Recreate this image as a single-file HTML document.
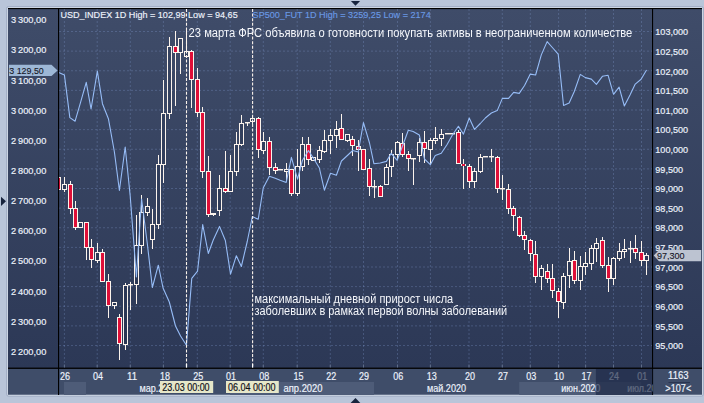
<!DOCTYPE html><html><head><meta charset="utf-8"><title>chart</title>
<style>html,body{margin:0;padding:0;background:#b9c5d9;}svg{display:block}text{font-family:"Liberation Sans",sans-serif;}</style></head><body>
<svg width="704" height="403" viewBox="0 0 704 403">
<defs>
<linearGradient id="bg" x1="0" y1="0" x2="0" y2="1"><stop offset="0" stop-color="#3f4c69"/><stop offset="1" stop-color="#2c3856"/></linearGradient>
<linearGradient id="bg2" gradientUnits="userSpaceOnUse" x1="0" y1="8" x2="0" y2="369"><stop offset="0" stop-color="#394663"/><stop offset="1" stop-color="#283452"/></linearGradient>
<clipPath id="cp"><rect x="59" y="9" width="593.5" height="359"/></clipPath>
<clipPath id="cb"><rect x="59" y="369" width="593.5" height="26"/></clipPath>
</defs>
<rect x="0" y="0" width="704" height="403" fill="#b9c5d9"/>
<rect x="6.5" y="6.5" width="697" height="389.7" rx="2" fill="none" stroke="#a3afc6" stroke-width="1"/>
<rect x="7.5" y="7.5" width="695" height="387.7" rx="1.5" fill="none" stroke="#ccd5e3" stroke-width="1"/>
<rect x="8" y="8" width="694" height="361" fill="url(#bg)"/>
<rect x="8" y="368" width="694" height="26.7" fill="#3f4d69"/>
<rect x="8" y="8" width="694" height="1.1" fill="#000"/>
<g clip-path="url(#cb)">
<rect x="64" y="382" width="22" height="13" fill="#4e5c78"/>
<rect x="230" y="382" width="144" height="13" fill="#4e5c78"/>
<rect x="519.2" y="382" width="122" height="13" fill="#4e5c78"/>
</g>
<g stroke="#9dbcf5" stroke-opacity="0.23" stroke-width="1" stroke-dasharray="2 2" fill="none" clip-path="url(#cp)">
<line x1="59" y1="31.50" x2="652" y2="31.50"/>
<line x1="59" y1="51.12" x2="652" y2="51.12"/>
<line x1="59" y1="70.75" x2="652" y2="70.75"/>
<line x1="59" y1="90.38" x2="652" y2="90.38"/>
<line x1="59" y1="110.00" x2="652" y2="110.00"/>
<line x1="59" y1="129.62" x2="652" y2="129.62"/>
<line x1="59" y1="149.25" x2="652" y2="149.25"/>
<line x1="59" y1="168.88" x2="652" y2="168.88"/>
<line x1="59" y1="188.50" x2="652" y2="188.50"/>
<line x1="59" y1="208.12" x2="652" y2="208.12"/>
<line x1="59" y1="227.75" x2="652" y2="227.75"/>
<line x1="59" y1="247.38" x2="652" y2="247.38"/>
<line x1="59" y1="267.00" x2="652" y2="267.00"/>
<line x1="59" y1="286.62" x2="652" y2="286.62"/>
<line x1="59" y1="306.25" x2="652" y2="306.25"/>
<line x1="59" y1="325.88" x2="652" y2="325.88"/>
<line x1="59" y1="345.50" x2="652" y2="345.50"/>
<line x1="64.40" y1="9" x2="64.40" y2="368"/>
<line x1="97.20" y1="9" x2="97.20" y2="368"/>
<line x1="130.30" y1="9" x2="130.30" y2="368"/>
<line x1="163.40" y1="9" x2="163.40" y2="368"/>
<line x1="197.30" y1="9" x2="197.30" y2="368"/>
<line x1="230.20" y1="9" x2="230.20" y2="368"/>
<line x1="263.30" y1="9" x2="263.30" y2="368"/>
<line x1="297.20" y1="9" x2="297.20" y2="368"/>
<line x1="330.30" y1="9" x2="330.30" y2="368"/>
<line x1="363.50" y1="9" x2="363.50" y2="368"/>
<line x1="397.50" y1="9" x2="397.50" y2="368"/>
<line x1="430.40" y1="9" x2="430.40" y2="368"/>
<line x1="469.00" y1="9" x2="469.00" y2="368"/>
<line x1="502.30" y1="9" x2="502.30" y2="368"/>
<line x1="530.30" y1="9" x2="530.30" y2="368"/>
<line x1="558.60" y1="9" x2="558.60" y2="368"/>
<line x1="585.60" y1="9" x2="585.60" y2="368"/>
<line x1="613.50" y1="9" x2="613.50" y2="368"/>
<line x1="641.50" y1="9" x2="641.50" y2="368"/>
</g>
<g clip-path="url(#cp)">
<rect x="58" y="175" width="1" height="17" fill="#fbf3ec"/>
<rect x="56" y="177" width="5" height="13" fill="#fbf3ec"/>
<rect x="57" y="178" width="3" height="11" fill="#df0f38"/>
<rect x="64" y="177" width="1" height="15" fill="#fbf3ec"/>
<rect x="62" y="184" width="5" height="6" fill="#fbf3ec"/>
<rect x="63" y="185" width="3" height="4" fill="url(#bg2)"/>
<rect x="70" y="181" width="1" height="33" fill="#fbf3ec"/>
<rect x="68" y="184" width="5" height="25" fill="#fbf3ec"/>
<rect x="69" y="185" width="3" height="23" fill="#df0f38"/>
<rect x="75" y="201" width="1" height="29" fill="#fbf3ec"/>
<rect x="73" y="208" width="5" height="20" fill="#fbf3ec"/>
<rect x="74" y="209" width="3" height="18" fill="#df0f38"/>
<rect x="80" y="222" width="1" height="6" fill="#fbf3ec"/>
<rect x="78" y="222" width="5" height="6" fill="#fbf3ec"/>
<rect x="79" y="223" width="3" height="4" fill="url(#bg2)"/>
<rect x="86" y="222" width="1" height="38" fill="#fbf3ec"/>
<rect x="84" y="222" width="5" height="26" fill="#fbf3ec"/>
<rect x="85" y="223" width="3" height="24" fill="#df0f38"/>
<rect x="91" y="239" width="1" height="29" fill="#fbf3ec"/>
<rect x="89" y="247" width="5" height="13" fill="#fbf3ec"/>
<rect x="90" y="248" width="3" height="11" fill="#df0f38"/>
<rect x="97" y="243" width="1" height="20" fill="#fbf3ec"/>
<rect x="95" y="252" width="5" height="9" fill="#fbf3ec"/>
<rect x="96" y="253" width="3" height="7" fill="url(#bg2)"/>
<rect x="102" y="249" width="1" height="33" fill="#fbf3ec"/>
<rect x="100" y="252" width="5" height="30" fill="#fbf3ec"/>
<rect x="101" y="253" width="3" height="28" fill="#df0f38"/>
<rect x="108" y="274" width="1" height="44" fill="#fbf3ec"/>
<rect x="106" y="281" width="5" height="25" fill="#fbf3ec"/>
<rect x="107" y="282" width="3" height="23" fill="#df0f38"/>
<rect x="114" y="302" width="1" height="7" fill="#fbf3ec"/>
<rect x="112" y="302" width="5" height="4" fill="#fbf3ec"/>
<rect x="113" y="303" width="3" height="2" fill="url(#bg2)"/>
<rect x="119" y="314" width="1" height="46" fill="#fbf3ec"/>
<rect x="117" y="317" width="5" height="27" fill="#fbf3ec"/>
<rect x="118" y="318" width="3" height="25" fill="#df0f38"/>
<rect x="125" y="283" width="1" height="67" fill="#fbf3ec"/>
<rect x="123" y="285" width="5" height="60" fill="#fbf3ec"/>
<rect x="124" y="286" width="3" height="58" fill="url(#bg2)"/>
<rect x="130" y="282" width="1" height="28" fill="#fbf3ec"/>
<rect x="128" y="284" width="5" height="1.45" fill="#fbf3ec"/>
<rect x="136" y="215" width="1" height="89" fill="#fbf3ec"/>
<rect x="134" y="245" width="5" height="40" fill="#fbf3ec"/>
<rect x="135" y="246" width="3" height="38" fill="url(#bg2)"/>
<rect x="141" y="195" width="1" height="59" fill="#fbf3ec"/>
<rect x="139" y="212" width="5" height="34" fill="#fbf3ec"/>
<rect x="140" y="213" width="3" height="32" fill="url(#bg2)"/>
<rect x="147" y="198" width="1" height="18" fill="#fbf3ec"/>
<rect x="145" y="206" width="5" height="7" fill="#fbf3ec"/>
<rect x="146" y="207" width="3" height="5" fill="url(#bg2)"/>
<rect x="152" y="209" width="1" height="40" fill="#fbf3ec"/>
<rect x="150" y="224" width="5" height="16" fill="#fbf3ec"/>
<rect x="151" y="225" width="3" height="14" fill="url(#bg2)"/>
<rect x="158" y="155" width="1" height="74" fill="#fbf3ec"/>
<rect x="156" y="164" width="5" height="61" fill="#fbf3ec"/>
<rect x="157" y="165" width="3" height="59" fill="url(#bg2)"/>
<rect x="163" y="80" width="1" height="103" fill="#fbf3ec"/>
<rect x="161" y="113" width="5" height="52" fill="#fbf3ec"/>
<rect x="162" y="114" width="3" height="50" fill="url(#bg2)"/>
<rect x="169" y="37" width="1" height="82" fill="#fbf3ec"/>
<rect x="167" y="46" width="5" height="68" fill="#fbf3ec"/>
<rect x="168" y="47" width="3" height="66" fill="url(#bg2)"/>
<rect x="175" y="31" width="1" height="75" fill="#fbf3ec"/>
<rect x="173" y="46" width="5" height="7" fill="#fbf3ec"/>
<rect x="174" y="47" width="3" height="5" fill="#df0f38"/>
<rect x="180" y="38" width="1" height="36" fill="#fbf3ec"/>
<rect x="178" y="38" width="5" height="15" fill="#fbf3ec"/>
<rect x="179" y="39" width="3" height="13" fill="url(#bg2)"/>
<rect x="186" y="30" width="1" height="28" fill="#fbf3ec"/>
<rect x="184" y="51" width="5" height="6" fill="#fbf3ec"/>
<rect x="185" y="52" width="3" height="4" fill="url(#bg2)"/>
<rect x="191" y="50" width="1" height="58" fill="#fbf3ec"/>
<rect x="189" y="51" width="5" height="29" fill="#fbf3ec"/>
<rect x="190" y="52" width="3" height="27" fill="#df0f38"/>
<rect x="197" y="68" width="1" height="49" fill="#fbf3ec"/>
<rect x="195" y="79" width="5" height="34" fill="#fbf3ec"/>
<rect x="196" y="80" width="3" height="32" fill="#df0f38"/>
<rect x="202" y="107" width="1" height="71" fill="#fbf3ec"/>
<rect x="200" y="112" width="5" height="60" fill="#fbf3ec"/>
<rect x="201" y="113" width="3" height="58" fill="#df0f38"/>
<rect x="208" y="156" width="1" height="61" fill="#fbf3ec"/>
<rect x="206" y="171" width="5" height="44" fill="#fbf3ec"/>
<rect x="207" y="172" width="3" height="42" fill="#df0f38"/>
<rect x="213" y="213" width="1" height="3" fill="#fbf3ec"/>
<rect x="211" y="213" width="5" height="2" fill="#fbf3ec"/>
<rect x="219" y="175" width="1" height="41" fill="#fbf3ec"/>
<rect x="217" y="188" width="5" height="23" fill="#fbf3ec"/>
<rect x="218" y="189" width="3" height="21" fill="url(#bg2)"/>
<rect x="225" y="151" width="1" height="42" fill="#fbf3ec"/>
<rect x="223" y="188" width="5" height="4" fill="#fbf3ec"/>
<rect x="224" y="189" width="3" height="2" fill="#df0f38"/>
<rect x="230" y="155" width="1" height="37" fill="#fbf3ec"/>
<rect x="228" y="171" width="5" height="21" fill="#fbf3ec"/>
<rect x="229" y="172" width="3" height="19" fill="url(#bg2)"/>
<rect x="236" y="132" width="1" height="44" fill="#fbf3ec"/>
<rect x="234" y="144" width="5" height="28" fill="#fbf3ec"/>
<rect x="235" y="145" width="3" height="26" fill="url(#bg2)"/>
<rect x="241" y="115" width="1" height="31" fill="#fbf3ec"/>
<rect x="239" y="123" width="5" height="22" fill="#fbf3ec"/>
<rect x="240" y="124" width="3" height="20" fill="url(#bg2)"/>
<rect x="247" y="122" width="1" height="4" fill="#fbf3ec"/>
<rect x="245" y="122" width="5" height="1.45" fill="#fbf3ec"/>
<rect x="252" y="116" width="1" height="8" fill="#fbf3ec"/>
<rect x="250" y="118" width="5" height="4" fill="#fbf3ec"/>
<rect x="251" y="119" width="3" height="2" fill="url(#bg2)"/>
<rect x="258" y="117" width="1" height="41" fill="#fbf3ec"/>
<rect x="256" y="118" width="5" height="32" fill="#fbf3ec"/>
<rect x="257" y="119" width="3" height="30" fill="#df0f38"/>
<rect x="263" y="132" width="1" height="22" fill="#fbf3ec"/>
<rect x="261" y="141" width="5" height="10" fill="#fbf3ec"/>
<rect x="262" y="142" width="3" height="8" fill="url(#bg2)"/>
<rect x="269" y="137" width="1" height="38" fill="#fbf3ec"/>
<rect x="267" y="141" width="5" height="27" fill="#fbf3ec"/>
<rect x="268" y="142" width="3" height="25" fill="#df0f38"/>
<rect x="275" y="163" width="1" height="11" fill="#fbf3ec"/>
<rect x="273" y="167" width="5" height="4" fill="#fbf3ec"/>
<rect x="274" y="168" width="3" height="2" fill="#df0f38"/>
<rect x="278" y="169" width="5" height="1.45" fill="#fbf3ec"/>
<rect x="286" y="163" width="1" height="18" fill="#fbf3ec"/>
<rect x="284" y="169" width="5" height="3" fill="#fbf3ec"/>
<rect x="285" y="170" width="3" height="1" fill="url(#bg2)"/>
<rect x="291" y="169" width="1" height="27" fill="#fbf3ec"/>
<rect x="289" y="169" width="5" height="25" fill="#fbf3ec"/>
<rect x="290" y="170" width="3" height="23" fill="#df0f38"/>
<rect x="297" y="149" width="1" height="47" fill="#fbf3ec"/>
<rect x="295" y="166" width="5" height="28" fill="#fbf3ec"/>
<rect x="296" y="167" width="3" height="26" fill="url(#bg2)"/>
<rect x="302" y="137" width="1" height="34" fill="#fbf3ec"/>
<rect x="300" y="144" width="5" height="23" fill="#fbf3ec"/>
<rect x="301" y="145" width="3" height="21" fill="url(#bg2)"/>
<rect x="308" y="137" width="1" height="28" fill="#fbf3ec"/>
<rect x="306" y="144" width="5" height="16" fill="#fbf3ec"/>
<rect x="307" y="145" width="3" height="14" fill="#df0f38"/>
<rect x="313" y="158" width="1" height="2" fill="#fbf3ec"/>
<rect x="311" y="157" width="5" height="4" fill="#fbf3ec"/>
<rect x="312" y="158" width="3" height="2" fill="url(#bg2)"/>
<rect x="319" y="146" width="1" height="17" fill="#fbf3ec"/>
<rect x="317" y="150" width="5" height="10" fill="#fbf3ec"/>
<rect x="318" y="151" width="3" height="8" fill="url(#bg2)"/>
<rect x="324" y="130" width="1" height="23" fill="#fbf3ec"/>
<rect x="322" y="140" width="5" height="12" fill="#fbf3ec"/>
<rect x="323" y="141" width="3" height="10" fill="url(#bg2)"/>
<rect x="330" y="129" width="1" height="25" fill="#fbf3ec"/>
<rect x="328" y="135" width="5" height="6" fill="#fbf3ec"/>
<rect x="329" y="136" width="3" height="4" fill="url(#bg2)"/>
<rect x="336" y="121" width="1" height="27" fill="#fbf3ec"/>
<rect x="334" y="129" width="5" height="7" fill="#fbf3ec"/>
<rect x="335" y="130" width="3" height="5" fill="url(#bg2)"/>
<rect x="341" y="114" width="1" height="26" fill="#fbf3ec"/>
<rect x="339" y="128" width="5" height="12" fill="#fbf3ec"/>
<rect x="340" y="129" width="3" height="10" fill="#df0f38"/>
<rect x="347" y="134" width="1" height="8" fill="#fbf3ec"/>
<rect x="345" y="134" width="5" height="7" fill="#fbf3ec"/>
<rect x="346" y="135" width="3" height="5" fill="url(#bg2)"/>
<rect x="352" y="136" width="1" height="20" fill="#fbf3ec"/>
<rect x="350" y="139" width="5" height="7" fill="#fbf3ec"/>
<rect x="351" y="140" width="3" height="5" fill="#df0f38"/>
<rect x="358" y="140" width="1" height="31" fill="#fbf3ec"/>
<rect x="356" y="146" width="5" height="4" fill="#fbf3ec"/>
<rect x="357" y="147" width="3" height="2" fill="#df0f38"/>
<rect x="363" y="150" width="1" height="19" fill="#fbf3ec"/>
<rect x="361" y="149" width="5" height="21" fill="#fbf3ec"/>
<rect x="362" y="150" width="3" height="19" fill="#df0f38"/>
<rect x="369" y="159" width="1" height="37" fill="#fbf3ec"/>
<rect x="367" y="168" width="5" height="19" fill="#fbf3ec"/>
<rect x="368" y="169" width="3" height="17" fill="#df0f38"/>
<rect x="374" y="180" width="1" height="18" fill="#fbf3ec"/>
<rect x="372" y="186" width="5" height="1.45" fill="#fbf3ec"/>
<rect x="380" y="185" width="1" height="11" fill="#fbf3ec"/>
<rect x="378" y="186" width="5" height="11" fill="#fbf3ec"/>
<rect x="379" y="187" width="3" height="9" fill="#df0f38"/>
<rect x="386" y="164" width="1" height="20" fill="#fbf3ec"/>
<rect x="384" y="167" width="5" height="18" fill="#fbf3ec"/>
<rect x="385" y="168" width="3" height="16" fill="url(#bg2)"/>
<rect x="391" y="150" width="1" height="27" fill="#fbf3ec"/>
<rect x="389" y="154" width="5" height="13" fill="#fbf3ec"/>
<rect x="390" y="155" width="3" height="11" fill="url(#bg2)"/>
<rect x="397" y="141" width="1" height="19" fill="#fbf3ec"/>
<rect x="395" y="142" width="5" height="13" fill="#fbf3ec"/>
<rect x="396" y="143" width="3" height="11" fill="url(#bg2)"/>
<rect x="402" y="133" width="1" height="24" fill="#fbf3ec"/>
<rect x="400" y="143" width="5" height="12" fill="#fbf3ec"/>
<rect x="401" y="144" width="3" height="10" fill="#df0f38"/>
<rect x="408" y="151" width="1" height="20" fill="#fbf3ec"/>
<rect x="406" y="154" width="5" height="5" fill="#fbf3ec"/>
<rect x="407" y="155" width="3" height="3" fill="#df0f38"/>
<rect x="413" y="159" width="1" height="26" fill="#fbf3ec"/>
<rect x="411" y="158" width="5" height="1.45" fill="#fbf3ec"/>
<rect x="419" y="138" width="1" height="24" fill="#fbf3ec"/>
<rect x="417" y="142" width="5" height="14" fill="#fbf3ec"/>
<rect x="418" y="143" width="3" height="12" fill="url(#bg2)"/>
<rect x="424" y="131" width="1" height="32" fill="#fbf3ec"/>
<rect x="422" y="142" width="5" height="7" fill="#fbf3ec"/>
<rect x="423" y="143" width="3" height="5" fill="#df0f38"/>
<rect x="430" y="138" width="1" height="27" fill="#fbf3ec"/>
<rect x="428" y="140" width="5" height="10" fill="#fbf3ec"/>
<rect x="429" y="141" width="3" height="8" fill="url(#bg2)"/>
<rect x="435" y="127" width="1" height="17" fill="#fbf3ec"/>
<rect x="433" y="138" width="5" height="3" fill="#fbf3ec"/>
<rect x="434" y="139" width="3" height="1" fill="url(#bg2)"/>
<rect x="441" y="129" width="1" height="17" fill="#fbf3ec"/>
<rect x="439" y="134" width="5" height="5" fill="#fbf3ec"/>
<rect x="440" y="135" width="3" height="3" fill="url(#bg2)"/>
<rect x="445" y="133" width="5" height="1.45" fill="#fbf3ec"/>
<rect x="450" y="133" width="5" height="1.45" fill="#fbf3ec"/>
<rect x="458" y="130" width="1" height="34" fill="#fbf3ec"/>
<rect x="456" y="132" width="5" height="32" fill="#fbf3ec"/>
<rect x="457" y="133" width="3" height="30" fill="#df0f38"/>
<rect x="463" y="159" width="1" height="30" fill="#fbf3ec"/>
<rect x="461" y="164" width="5" height="2" fill="#fbf3ec"/>
<rect x="462" y="164" width="3" height="2" fill="#df0f38"/>
<rect x="469" y="164" width="1" height="24" fill="#fbf3ec"/>
<rect x="467" y="166" width="5" height="16" fill="#fbf3ec"/>
<rect x="468" y="167" width="3" height="14" fill="#df0f38"/>
<rect x="474" y="168" width="1" height="20" fill="#fbf3ec"/>
<rect x="472" y="171" width="5" height="11" fill="#fbf3ec"/>
<rect x="473" y="172" width="3" height="9" fill="url(#bg2)"/>
<rect x="480" y="154" width="1" height="19" fill="#fbf3ec"/>
<rect x="478" y="157" width="5" height="15" fill="#fbf3ec"/>
<rect x="479" y="158" width="3" height="13" fill="url(#bg2)"/>
<rect x="483" y="156" width="5" height="1.45" fill="#fbf3ec"/>
<rect x="491" y="149" width="1" height="13" fill="#fbf3ec"/>
<rect x="489" y="156" width="5" height="1.45" fill="#fbf3ec"/>
<rect x="497" y="156" width="1" height="37" fill="#fbf3ec"/>
<rect x="495" y="157" width="5" height="32" fill="#fbf3ec"/>
<rect x="496" y="158" width="3" height="30" fill="#df0f38"/>
<rect x="502" y="175" width="1" height="25" fill="#fbf3ec"/>
<rect x="500" y="188" width="5" height="1.45" fill="#fbf3ec"/>
<rect x="508" y="184" width="1" height="30" fill="#fbf3ec"/>
<rect x="506" y="189" width="5" height="20" fill="#fbf3ec"/>
<rect x="507" y="190" width="3" height="18" fill="#df0f38"/>
<rect x="513" y="206" width="1" height="25" fill="#fbf3ec"/>
<rect x="511" y="208" width="5" height="8" fill="#fbf3ec"/>
<rect x="512" y="209" width="3" height="6" fill="#df0f38"/>
<rect x="519" y="216" width="1" height="21" fill="#fbf3ec"/>
<rect x="517" y="217" width="5" height="19" fill="#fbf3ec"/>
<rect x="518" y="218" width="3" height="17" fill="#df0f38"/>
<rect x="524" y="231" width="1" height="19" fill="#fbf3ec"/>
<rect x="522" y="235" width="5" height="5" fill="#fbf3ec"/>
<rect x="523" y="236" width="3" height="3" fill="#df0f38"/>
<rect x="530" y="239" width="1" height="22" fill="#fbf3ec"/>
<rect x="528" y="240" width="5" height="14" fill="#fbf3ec"/>
<rect x="529" y="241" width="3" height="12" fill="#df0f38"/>
<rect x="535" y="241" width="1" height="42" fill="#fbf3ec"/>
<rect x="533" y="254" width="5" height="23" fill="#fbf3ec"/>
<rect x="534" y="255" width="3" height="21" fill="#df0f38"/>
<rect x="541" y="265" width="1" height="25" fill="#fbf3ec"/>
<rect x="539" y="268" width="5" height="9" fill="#fbf3ec"/>
<rect x="540" y="269" width="3" height="7" fill="url(#bg2)"/>
<rect x="547" y="264" width="1" height="19" fill="#fbf3ec"/>
<rect x="545" y="271" width="5" height="8" fill="#fbf3ec"/>
<rect x="546" y="272" width="3" height="6" fill="#df0f38"/>
<rect x="552" y="264" width="1" height="34" fill="#fbf3ec"/>
<rect x="550" y="278" width="5" height="13" fill="#fbf3ec"/>
<rect x="551" y="279" width="3" height="11" fill="#df0f38"/>
<rect x="558" y="288" width="1" height="30" fill="#fbf3ec"/>
<rect x="556" y="291" width="5" height="11" fill="#fbf3ec"/>
<rect x="557" y="292" width="3" height="9" fill="#df0f38"/>
<rect x="563" y="273" width="1" height="36" fill="#fbf3ec"/>
<rect x="561" y="276" width="5" height="27" fill="#fbf3ec"/>
<rect x="562" y="277" width="3" height="25" fill="url(#bg2)"/>
<rect x="569" y="248" width="1" height="40" fill="#fbf3ec"/>
<rect x="567" y="261" width="5" height="15" fill="#fbf3ec"/>
<rect x="568" y="262" width="3" height="13" fill="url(#bg2)"/>
<rect x="574" y="251" width="1" height="33" fill="#fbf3ec"/>
<rect x="572" y="260" width="5" height="21" fill="#fbf3ec"/>
<rect x="573" y="261" width="3" height="19" fill="#df0f38"/>
<rect x="580" y="256" width="1" height="34" fill="#fbf3ec"/>
<rect x="578" y="266" width="5" height="15" fill="#fbf3ec"/>
<rect x="579" y="267" width="3" height="13" fill="url(#bg2)"/>
<rect x="585" y="252" width="1" height="23" fill="#fbf3ec"/>
<rect x="583" y="263" width="5" height="4" fill="#fbf3ec"/>
<rect x="584" y="264" width="3" height="2" fill="url(#bg2)"/>
<rect x="591" y="245" width="1" height="25" fill="#fbf3ec"/>
<rect x="589" y="248" width="5" height="16" fill="#fbf3ec"/>
<rect x="590" y="249" width="3" height="14" fill="url(#bg2)"/>
<rect x="596" y="238" width="1" height="24" fill="#fbf3ec"/>
<rect x="594" y="243" width="5" height="6" fill="#fbf3ec"/>
<rect x="595" y="244" width="3" height="4" fill="url(#bg2)"/>
<rect x="602" y="237" width="1" height="31" fill="#fbf3ec"/>
<rect x="600" y="240" width="5" height="26" fill="#fbf3ec"/>
<rect x="601" y="241" width="3" height="24" fill="#df0f38"/>
<rect x="608" y="257" width="1" height="35" fill="#fbf3ec"/>
<rect x="606" y="265" width="5" height="14" fill="#fbf3ec"/>
<rect x="607" y="266" width="3" height="12" fill="#df0f38"/>
<rect x="613" y="257" width="1" height="28" fill="#fbf3ec"/>
<rect x="611" y="258" width="5" height="21" fill="#fbf3ec"/>
<rect x="612" y="259" width="3" height="19" fill="url(#bg2)"/>
<rect x="619" y="243" width="1" height="18" fill="#fbf3ec"/>
<rect x="617" y="251" width="5" height="8" fill="#fbf3ec"/>
<rect x="618" y="252" width="3" height="6" fill="url(#bg2)"/>
<rect x="624" y="239" width="1" height="19" fill="#fbf3ec"/>
<rect x="622" y="249" width="5" height="3" fill="#fbf3ec"/>
<rect x="623" y="250" width="3" height="1" fill="url(#bg2)"/>
<rect x="630" y="241" width="1" height="22" fill="#fbf3ec"/>
<rect x="628" y="248" width="5" height="1.45" fill="#fbf3ec"/>
<rect x="635" y="235" width="1" height="24" fill="#fbf3ec"/>
<rect x="633" y="248" width="5" height="5" fill="#fbf3ec"/>
<rect x="634" y="249" width="3" height="3" fill="#df0f38"/>
<rect x="641" y="241" width="1" height="25" fill="#fbf3ec"/>
<rect x="639" y="252" width="5" height="9" fill="#fbf3ec"/>
<rect x="640" y="253" width="3" height="7" fill="#df0f38"/>
<rect x="646" y="253" width="1" height="22" fill="#fbf3ec"/>
<rect x="644" y="255" width="5" height="6" fill="#fbf3ec"/>
<rect x="645" y="256" width="3" height="4" fill="url(#bg2)"/>
<polyline points="58.65,72.40 64.40,74.90 69.85,117.60 75.10,121.20 80.70,101.80 86.25,82.40 91.05,109.00 97.35,71.10 102.45,103.70 108.40,118.70 114.40,152.00 119.40,190.50 125.20,147.00 130.20,196.00 136.40,277.00 141.60,199.00 147.35,244.00 152.35,287.50 158.30,265.20 163.05,288.00 169.30,302.00 175.50,326.00 180.55,336.00 186.45,345.30 191.75,278.40 197.55,271.20 202.70,224.60 208.30,253.50 213.25,240.00 219.50,226.40 225.35,240.50 230.55,274.20 236.35,255.70 241.35,266.50 247.25,241.50 252.35,216.50 258.20,219.30 263.20,188.00 269.35,176.30 275.20,178.30 280.15,180.30 286.20,182.40 291.40,157.30 297.55,179.10 302.40,160.50 308.45,150.50 313.30,158.00 319.35,168.00 324.40,190.20 330.50,173.20 336.40,175.20 341.45,161.00 347.40,155.50 352.70,150.50 358.20,152.00 363.45,122.60 369.50,143.00 373.90,163.70 380.20,163.00 386.45,161.40 391.20,153.30 397.20,160.40 402.45,146.30 408.30,130.20 413.15,131.50 419.35,135.00 424.45,159.00 430.35,164.70 435.25,155.50 441.30,153.30 447.10,144.50 452.10,135.50 458.40,126.30 463.45,134.10 469.25,118.00 474.50,129.40 480.30,123.50 485.35,118.00 491.35,113.00 497.25,110.60 502.35,98.40 508.55,98.40 513.65,92.40 519.25,93.40 524.55,85.50 530.30,74.10 535.60,75.00 541.30,54.90 547.15,41.60 552.35,47.50 558.20,54.10 563.55,105.50 569.15,103.00 574.30,91.50 580.30,74.40 585.35,77.60 591.35,79.10 596.40,84.40 602.40,76.30 608.10,75.30 613.55,94.30 619.10,87.20 624.35,106.00 630.00,95.00 635.25,84.10 641.10,79.30 646.55,70.00" fill="none" stroke="#96bcf6" stroke-width="1.1" stroke-linejoin="round"/>
<line x1="186.5" y1="9" x2="186.5" y2="368" stroke="#fbf3ec" stroke-width="1.1" stroke-dasharray="3 1.6"/>
<line x1="252.6" y1="9" x2="252.6" y2="368" stroke="#fbf3ec" stroke-width="1.1" stroke-dasharray="3 1.6"/>
</g>
<rect x="58" y="9" width="1.1" height="386" fill="#000"/>
<rect x="652" y="9" width="1.1" height="386" fill="#000"/>
<rect x="8" y="367.6" width="694" height="1.3" fill="#000"/>
<rect x="63.90" y="364.5" width="1" height="3" fill="#5f6d89"/>
<rect x="96.70" y="364.5" width="1" height="3" fill="#5f6d89"/>
<rect x="129.80" y="364.5" width="1" height="3" fill="#5f6d89"/>
<rect x="162.90" y="364.5" width="1" height="3" fill="#5f6d89"/>
<rect x="196.80" y="364.5" width="1" height="3" fill="#5f6d89"/>
<rect x="229.70" y="364.5" width="1" height="3" fill="#5f6d89"/>
<rect x="262.80" y="364.5" width="1" height="3" fill="#5f6d89"/>
<rect x="296.70" y="364.5" width="1" height="3" fill="#5f6d89"/>
<rect x="329.80" y="364.5" width="1" height="3" fill="#5f6d89"/>
<rect x="363.00" y="364.5" width="1" height="3" fill="#5f6d89"/>
<rect x="397.00" y="364.5" width="1" height="3" fill="#5f6d89"/>
<rect x="429.90" y="364.5" width="1" height="3" fill="#5f6d89"/>
<rect x="468.50" y="364.5" width="1" height="3" fill="#5f6d89"/>
<rect x="501.80" y="364.5" width="1" height="3" fill="#5f6d89"/>
<rect x="529.80" y="364.5" width="1" height="3" fill="#5f6d89"/>
<rect x="558.10" y="364.5" width="1" height="3" fill="#5f6d89"/>
<rect x="585.10" y="364.5" width="1" height="3" fill="#5f6d89"/>
<rect x="613.00" y="364.5" width="1" height="3" fill="#5f6d89"/>
<rect x="641.00" y="364.5" width="1" height="3" fill="#5f6d89"/>
<rect x="185.90" y="364" width="1.2" height="3.6" fill="#ffffff"/>
<rect x="252.00" y="364" width="1.2" height="3.6" fill="#ffffff"/>
<text x="11.0" y="23.2" font-size="9.7" fill="#eef3fc" stroke="#eef3fc" stroke-width="0.17" textLength="35.3" lengthAdjust="spacingAndGlyphs" word-spacing="-0.6">3 300,00</text>
<text x="11.0" y="53.2" font-size="9.7" fill="#eef3fc" stroke="#eef3fc" stroke-width="0.17" textLength="35.3" lengthAdjust="spacingAndGlyphs" word-spacing="-0.6">3 200,00</text>
<text x="11.0" y="83.7" font-size="9.7" fill="#eef3fc" stroke="#eef3fc" stroke-width="0.17" textLength="35.3" lengthAdjust="spacingAndGlyphs" word-spacing="-0.6">3 100,00</text>
<text x="11.0" y="113.7" font-size="9.7" fill="#eef3fc" stroke="#eef3fc" stroke-width="0.17" textLength="35.3" lengthAdjust="spacingAndGlyphs" word-spacing="-0.6">3 000,00</text>
<text x="11.0" y="143.7" font-size="9.7" fill="#eef3fc" stroke="#eef3fc" stroke-width="0.17" textLength="35.3" lengthAdjust="spacingAndGlyphs" word-spacing="-0.6">2 900,00</text>
<text x="11.0" y="173.7" font-size="9.7" fill="#eef3fc" stroke="#eef3fc" stroke-width="0.17" textLength="35.3" lengthAdjust="spacingAndGlyphs" word-spacing="-0.6">2 800,00</text>
<text x="11.0" y="203.7" font-size="9.7" fill="#eef3fc" stroke="#eef3fc" stroke-width="0.17" textLength="35.3" lengthAdjust="spacingAndGlyphs" word-spacing="-0.6">2 700,00</text>
<text x="11.0" y="234.2" font-size="9.7" fill="#eef3fc" stroke="#eef3fc" stroke-width="0.17" textLength="35.3" lengthAdjust="spacingAndGlyphs" word-spacing="-0.6">2 600,00</text>
<text x="11.0" y="264.2" font-size="9.7" fill="#eef3fc" stroke="#eef3fc" stroke-width="0.17" textLength="35.3" lengthAdjust="spacingAndGlyphs" word-spacing="-0.6">2 500,00</text>
<text x="11.0" y="294.7" font-size="9.7" fill="#eef3fc" stroke="#eef3fc" stroke-width="0.17" textLength="35.3" lengthAdjust="spacingAndGlyphs" word-spacing="-0.6">2 400,00</text>
<text x="11.0" y="324.7" font-size="9.7" fill="#eef3fc" stroke="#eef3fc" stroke-width="0.17" textLength="35.3" lengthAdjust="spacingAndGlyphs" word-spacing="-0.6">2 300,00</text>
<text x="11.0" y="354.7" font-size="9.7" fill="#eef3fc" stroke="#eef3fc" stroke-width="0.17" textLength="35.3" lengthAdjust="spacingAndGlyphs" word-spacing="-0.6">2 200,00</text>
<path d="M9 64.7 H51.5 L57.6 70.4 L51.5 76.1 H9 Z" fill="#9db7d6"/>
<text x="9.3" y="74.0" font-size="9.7" fill="#15151f" stroke="#15151f" stroke-width="0.1" textLength="34.5" lengthAdjust="spacingAndGlyphs">3 129,50</text>
<text x="655.3" y="35.2" font-size="9.7" fill="#eef3fc" stroke="#eef3fc" stroke-width="0.17" textLength="32.8" lengthAdjust="spacingAndGlyphs">103,000</text>
<text x="655.3" y="54.8" font-size="9.7" fill="#eef3fc" stroke="#eef3fc" stroke-width="0.17" textLength="32.8" lengthAdjust="spacingAndGlyphs">102,500</text>
<text x="655.3" y="74.5" font-size="9.7" fill="#eef3fc" stroke="#eef3fc" stroke-width="0.17" textLength="32.8" lengthAdjust="spacingAndGlyphs">102,000</text>
<text x="655.3" y="94.1" font-size="9.7" fill="#eef3fc" stroke="#eef3fc" stroke-width="0.17" textLength="32.8" lengthAdjust="spacingAndGlyphs">101,500</text>
<text x="655.3" y="113.7" font-size="9.7" fill="#eef3fc" stroke="#eef3fc" stroke-width="0.17" textLength="32.8" lengthAdjust="spacingAndGlyphs">101,000</text>
<text x="655.3" y="133.3" font-size="9.7" fill="#eef3fc" stroke="#eef3fc" stroke-width="0.17" textLength="32.8" lengthAdjust="spacingAndGlyphs">100,500</text>
<text x="655.3" y="152.9" font-size="9.7" fill="#eef3fc" stroke="#eef3fc" stroke-width="0.17" textLength="32.8" lengthAdjust="spacingAndGlyphs">100,000</text>
<text x="655.3" y="172.6" font-size="9.7" fill="#eef3fc" stroke="#eef3fc" stroke-width="0.17" textLength="27.8" lengthAdjust="spacingAndGlyphs">99,500</text>
<text x="655.3" y="192.2" font-size="9.7" fill="#eef3fc" stroke="#eef3fc" stroke-width="0.17" textLength="27.8" lengthAdjust="spacingAndGlyphs">99,000</text>
<text x="655.3" y="211.8" font-size="9.7" fill="#eef3fc" stroke="#eef3fc" stroke-width="0.17" textLength="27.8" lengthAdjust="spacingAndGlyphs">98,500</text>
<text x="655.3" y="231.4" font-size="9.7" fill="#eef3fc" stroke="#eef3fc" stroke-width="0.17" textLength="27.8" lengthAdjust="spacingAndGlyphs">98,000</text>
<text x="655.3" y="251.1" font-size="9.7" fill="#eef3fc" stroke="#eef3fc" stroke-width="0.17" textLength="27.8" lengthAdjust="spacingAndGlyphs">97,500</text>
<text x="655.3" y="270.7" font-size="9.7" fill="#eef3fc" stroke="#eef3fc" stroke-width="0.17" textLength="27.8" lengthAdjust="spacingAndGlyphs">97,000</text>
<text x="655.3" y="290.3" font-size="9.7" fill="#eef3fc" stroke="#eef3fc" stroke-width="0.17" textLength="27.8" lengthAdjust="spacingAndGlyphs">96,500</text>
<text x="655.3" y="309.9" font-size="9.7" fill="#eef3fc" stroke="#eef3fc" stroke-width="0.17" textLength="27.8" lengthAdjust="spacingAndGlyphs">96,000</text>
<text x="655.3" y="329.6" font-size="9.7" fill="#eef3fc" stroke="#eef3fc" stroke-width="0.17" textLength="27.8" lengthAdjust="spacingAndGlyphs">95,500</text>
<text x="655.3" y="349.2" font-size="9.7" fill="#eef3fc" stroke="#eef3fc" stroke-width="0.17" textLength="27.8" lengthAdjust="spacingAndGlyphs">95,000</text>
<path d="M653.7 255.6 L659 249.9 H701.2 V261.3 H659 Z" fill="#bcc3d1"/>
<text x="657.0" y="259.2" font-size="9.7" fill="#15151f" stroke="#15151f" stroke-width="0.1" textLength="27.6" lengthAdjust="spacingAndGlyphs">97,300</text>
<text x="60.0" y="380.1" font-size="10" fill="#eef3fc" stroke="#eef3fc" stroke-width="0.17" textLength="10.0" lengthAdjust="spacingAndGlyphs">26</text>
<text x="93.0" y="380.1" font-size="10" fill="#eef3fc" stroke="#eef3fc" stroke-width="0.17" textLength="10.0" lengthAdjust="spacingAndGlyphs">04</text>
<text x="127.0" y="380.1" font-size="10" fill="#eef3fc" stroke="#eef3fc" stroke-width="0.17" textLength="10.0" lengthAdjust="spacingAndGlyphs">11</text>
<text x="160.0" y="380.1" font-size="10" fill="#eef3fc" stroke="#eef3fc" stroke-width="0.17" textLength="10.0" lengthAdjust="spacingAndGlyphs">18</text>
<text x="193.3" y="380.1" font-size="10" fill="#eef3fc" stroke="#eef3fc" stroke-width="0.17" textLength="10.0" lengthAdjust="spacingAndGlyphs">25</text>
<text x="226.0" y="380.1" font-size="10" fill="#eef3fc" stroke="#eef3fc" stroke-width="0.17" textLength="10.0" lengthAdjust="spacingAndGlyphs">01</text>
<text x="259.3" y="380.1" font-size="10" fill="#eef3fc" stroke="#eef3fc" stroke-width="0.17" textLength="10.0" lengthAdjust="spacingAndGlyphs">08</text>
<text x="293.5" y="380.1" font-size="10" fill="#eef3fc" stroke="#eef3fc" stroke-width="0.17" textLength="10.0" lengthAdjust="spacingAndGlyphs">15</text>
<text x="326.3" y="380.1" font-size="10" fill="#eef3fc" stroke="#eef3fc" stroke-width="0.17" textLength="10.0" lengthAdjust="spacingAndGlyphs">22</text>
<text x="359.0" y="380.1" font-size="10" fill="#eef3fc" stroke="#eef3fc" stroke-width="0.17" textLength="10.0" lengthAdjust="spacingAndGlyphs">29</text>
<text x="393.3" y="380.1" font-size="10" fill="#eef3fc" stroke="#eef3fc" stroke-width="0.17" textLength="10.0" lengthAdjust="spacingAndGlyphs">06</text>
<text x="426.8" y="380.1" font-size="10" fill="#eef3fc" stroke="#eef3fc" stroke-width="0.17" textLength="10.0" lengthAdjust="spacingAndGlyphs">13</text>
<text x="465.0" y="380.1" font-size="10" fill="#eef3fc" stroke="#eef3fc" stroke-width="0.17" textLength="10.0" lengthAdjust="spacingAndGlyphs">20</text>
<text x="498.0" y="380.1" font-size="10" fill="#eef3fc" stroke="#eef3fc" stroke-width="0.17" textLength="10.0" lengthAdjust="spacingAndGlyphs">27</text>
<text x="526.3" y="380.1" font-size="10" fill="#eef3fc" stroke="#eef3fc" stroke-width="0.17" textLength="10.0" lengthAdjust="spacingAndGlyphs">03</text>
<text x="554.0" y="380.1" font-size="10" fill="#eef3fc" stroke="#eef3fc" stroke-width="0.17" textLength="10.0" lengthAdjust="spacingAndGlyphs">10</text>
<text x="581.6" y="380.1" font-size="10" fill="#eef3fc" stroke="#eef3fc" stroke-width="0.17" textLength="10.0" lengthAdjust="spacingAndGlyphs">17</text>
<text x="609.0" y="380.1" font-size="10" fill="#eef3fc" stroke="#eef3fc" stroke-width="0.17" textLength="10.0" lengthAdjust="spacingAndGlyphs">24</text>
<text x="637.2" y="380.1" font-size="10" fill="#eef3fc" stroke="#eef3fc" stroke-width="0.17" textLength="10.0" lengthAdjust="spacingAndGlyphs">01</text>
<g clip-path="url(#cb)">
<text x="139.5" y="391.6" font-size="10" fill="#eef3fc" stroke="#eef3fc" stroke-width="0.17" textLength="39.0" lengthAdjust="spacingAndGlyphs">мар.2020</text>
<text x="283.5" y="391.6" font-size="10" fill="#eef3fc" stroke="#eef3fc" stroke-width="0.17" textLength="39.0" lengthAdjust="spacingAndGlyphs">апр.2020</text>
<text x="427.0" y="391.6" font-size="10" fill="#eef3fc" stroke="#eef3fc" stroke-width="0.17" textLength="39.0" lengthAdjust="spacingAndGlyphs">май.2020</text>
<text x="561.3" y="391.6" font-size="10" fill="#eef3fc" stroke="#eef3fc" stroke-width="0.17" textLength="39.0" lengthAdjust="spacingAndGlyphs">июн.2020</text>
<text x="627.3" y="391.6" font-size="10" fill="#eef3fc" stroke="#eef3fc" stroke-width="0.17" textLength="39.0" lengthAdjust="spacingAndGlyphs">июл.2020</text>
<rect x="595.9" y="369" width="57" height="26" fill="#1c2846" fill-opacity="0.68"/>
</g>
<rect x="160" y="381" width="53.2" height="12" fill="#e6e7c9"/>
<text x="162.3" y="390.9" font-size="10" fill="#101018" stroke="#101018" stroke-width="0.17" textLength="47.3" lengthAdjust="spacingAndGlyphs">23.03 00:00</text>
<rect x="226" y="381" width="52.8" height="12" fill="#e6e7c9"/>
<text x="228.0" y="390.9" font-size="10" fill="#101018" stroke="#101018" stroke-width="0.17" textLength="47.6" lengthAdjust="spacingAndGlyphs">06.04 00:00</text>
<text x="678.3" y="379.3" font-size="10" fill="#eef3fc" stroke="#eef3fc" stroke-width="0.17" textLength="20.5" lengthAdjust="spacingAndGlyphs" text-anchor="middle">1163</text>
<rect x="668.5" y="382" width="21.5" height="1" fill="#2a3551"/>
<text x="678.3" y="392.3" font-size="10" fill="#eef3fc" stroke="#eef3fc" stroke-width="0.17" textLength="26.0" lengthAdjust="spacingAndGlyphs" text-anchor="middle">&gt;107&lt;</text>
<text x="60.4" y="18.3" font-size="9.6" fill="#eef3fc" stroke="#eef3fc" stroke-width="0.15" textLength="177.3" lengthAdjust="spacingAndGlyphs">USD_INDEX 1D High = 102,99 Low = 94,65</text>
<text x="252.6" y="18.3" font-size="9.6" fill="#6a9ae6" stroke="#6a9ae6" stroke-width="0.12" textLength="178.1" lengthAdjust="spacingAndGlyphs">SP500_FUT 1D High = 3259,25 Low = 2174</text>
<g style="will-change:transform">
<text x="188.6" y="37.0" font-size="12" fill="#f5f7fb" stroke="#f5f7fb" stroke-width="0" textLength="443.7" lengthAdjust="spacingAndGlyphs">23 марта ФРС объявила о готовности покупать активы в неограниченном количестве</text>
<text x="254.5" y="302.6" font-size="12" fill="#f5f7fb" stroke="#f5f7fb" stroke-width="0" textLength="198.7" lengthAdjust="spacingAndGlyphs">максимальный дневной прирост числа</text>
<text x="254.5" y="315.2" font-size="12" fill="#f5f7fb" stroke="#f5f7fb" stroke-width="0" textLength="252.7" lengthAdjust="spacingAndGlyphs">заболевших в рамках первой волны заболеваний</text>
</g>
<path d="M350.9 1 H360.1 L355.5 5.7 Z" fill="#17233d"/>
<path d="M350.6 403 H360.3 L355.5 397.9 Z" fill="#17233d"/>
<path d="M1 196.7 V205.9 L6 201.3 Z" fill="#17233d"/>
</svg></body></html>
